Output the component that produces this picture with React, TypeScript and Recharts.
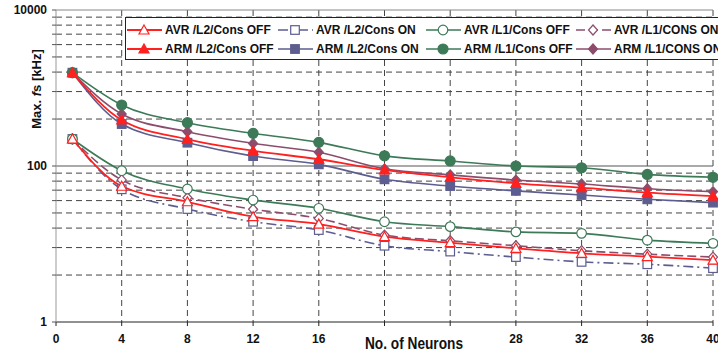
import React from 'react';
import { LineChart, Line, XAxis, YAxis, CartesianGrid, ReferenceLine } from 'recharts';

const neurons = [1, 4, 8, 12, 16, 20, 24, 28, 32, 36, 40];
const avrL2ConsOff = [222, 55, 34.8, 22.4, 18, 12.4, 10.4, 8.8, 7.6, 6.9, 6.2];
const avrL2ConsOn = [222, 50.3, 28.1, 19.3, 15.1, 9.5, 8.0, 6.8, 5.9, 5.5, 4.9];
const avrL1ConsOff = [222, 87, 50.7, 36.6, 28.7, 19.3, 16.7, 14.3, 13.7, 11.2, 10.2];
const avrL1ConsOn = [222, 66.2, 39.2, 27.9, 21.3, 13, 11.0, 9.5, 8.2, 7.4, 6.8];
const armL2ConsOff = [1570, 389, 220, 157, 122, 89, 71.6, 60, 52.7, 45.5, 41.2];
const armL2ConsOn = [1570, 345, 199, 134, 105, 67.5, 55.4, 48, 42.5, 37.4, 33.9];
const armL1ConsOff = [1570, 605, 359, 262, 201, 135, 116, 100, 95, 78, 71.6];
const armL1ConsOn = [1570, 464, 275, 195, 150, 92, 77, 66, 58.8, 51.2, 46.9];

const xTicks = [0, 4, 8, 12, 16, 20, 24, 28, 32, 36, 40];
const xHiddenLabels = [20, 24];
const yTicks = [1, 4, 9, 16, 25, 36, 49, 64, 81, 100, 400, 900, 1600, 2500, 3600, 4900, 6400, 8100, 10000];
const yLabelTicks = [1, 100, 10000];

const data = neurons.map((n, i) => ({
  n,
  avrL2Off: avrL2ConsOff[i],
  avrL2On: avrL2ConsOn[i],
  avrL1Off: avrL1ConsOff[i],
  avrL1On: avrL1ConsOn[i],
  armL2Off: armL2ConsOff[i],
  armL2On: armL2ConsOn[i],
  armL1Off: armL1ConsOff[i],
  armL1On: armL1ConsOn[i],
}));

const RED = '#ff2020';
const BLUE = '#5d5d90';
const GREEN = '#3d7a58';
const PURPLE = '#8c4d6c';
const FONT = '"Liberation Sans", Arial, sans-serif';

type Shape = 'triangle' | 'square' | 'circle' | 'diamond';

function markerEl(shape: Shape, cx: number, cy: number, color: string, filled: boolean, key?: string) {
  const fill = filled ? color : '#ffffff';
  const sw = 1.2;
  switch (shape) {
    case 'circle':
      return <circle key={key} cx={cx} cy={cy} r={filled ? 5 : 4.8} fill={fill} stroke={color} strokeWidth={sw} />;
    case 'square':
      return <rect key={key} x={cx - 4.3} y={cy - 4.3} width={8.6} height={8.6} fill={fill} stroke={color} strokeWidth={sw} />;
    case 'diamond':
      return (
        <polygon key={key} points={`${cx},${cy - 5} ${cx + 4.5},${cy} ${cx},${cy + 5} ${cx - 4.5},${cy}`} fill={fill} stroke={color} strokeWidth={sw} />
      );
    case 'triangle':
    default:
      return (
        <polygon key={key} points={`${cx},${cy - 5} ${cx + 5},${cy + 4} ${cx - 5},${cy + 4}`} fill={fill} stroke={color} strokeWidth={sw} />
      );
  }
}

function makeDot(shape: Shape, color: string, filled: boolean, id: string) {
  return (props: any) => {
    const { cx, cy, index } = props;
    const key = `${id}-${index}`;
    if (cx == null || cy == null || isNaN(cx) || isNaN(cy)) return <g key={key} />;
    return markerEl(shape, cx, cy, color, filled, key);
  };
}

type Series = { key: string; name: string; color: string; shape: Shape; filled: boolean; dash?: string; width: number };

const seriesList: Series[] = [
  { key: 'avrL2On', name: 'AVR /L2/Cons ON', color: BLUE, shape: 'square', filled: false, dash: '10 4 2 4', width: 1.6 },
  { key: 'avrL1On', name: 'AVR /L1/CONS ON', color: PURPLE, shape: 'diamond', filled: false, dash: '9 4', width: 1.6 },
  { key: 'avrL1Off', name: 'AVR /L1/Cons OFF', color: GREEN, shape: 'circle', filled: false, width: 1.6 },
  { key: 'avrL2Off', name: 'AVR /L2/Cons OFF', color: RED, shape: 'triangle', filled: false, width: 1.8 },
  { key: 'armL2On', name: 'ARM /L2/Cons ON', color: BLUE, shape: 'square', filled: true, width: 1.6 },
  { key: 'armL1On', name: 'ARM /L1/CONS ON', color: PURPLE, shape: 'diamond', filled: true, width: 1.6 },
  { key: 'armL1Off', name: 'ARM /L1/Cons OFF', color: GREEN, shape: 'circle', filled: true, width: 1.6 },
  { key: 'armL2Off', name: 'ARM /L2/Cons OFF', color: RED, shape: 'triangle', filled: true, width: 1.8 },
];

const legendOrder = [
  ['avrL2Off', 'avrL2On', 'avrL1Off', 'avrL1On'],
  ['armL2Off', 'armL2On', 'armL1Off', 'armL1On'],
];
const legendColX = [127, 278, 426, 576];
const legendRowY = [30, 49];

const XTick = (props: any) => {
  const { x, y, payload } = props;
  if (xHiddenLabels.includes(payload.value)) return <g />;
  return (
    <text x={x} y={y} dy="0.71em" textAnchor="middle" fontFamily={FONT} fontWeight="bold" fontSize={12} fill="#111">
      {payload.value}
    </text>
  );
};

const YTick = (props: any) => {
  const { x, y, payload } = props;
  if (!yLabelTicks.includes(payload.value)) return <g />;
  return (
    <text x={x} y={y} dy="0.35em" textAnchor="end" fontFamily={FONT} fontWeight="bold" fontSize={12} fill="#111">
      {payload.value}
    </text>
  );
};

export default function App() {
  return (
    <div style={{ position: 'absolute', left: 0, top: 0, width: 718, height: 352, overflow: 'hidden', background: '#fff' }}>
      <LineChart width={718} height={352} data={data} margin={{ top: 10, right: 5, bottom: 0, left: 0 }}>
        <CartesianGrid stroke="#444" strokeDasharray="6 4" horizontalValues={yTicks.filter((v) => v !== 1 && v !== 100 && v !== 10000)} verticalValues={[4, 8, 12, 16, 20, 24, 28, 32, 36, 40]} />
        <XAxis
          dataKey="n"
          type="number"
          domain={[0, 40]}
          ticks={xTicks}
          height={30}
          tickSize={4}
          tickMargin={8}
          tick={<XTick />}
          stroke="#222"
          tickLine={{ stroke: '#222' }}
          axisLine={{ stroke: '#222' }}
          interval={0}
        />
        <YAxis
          type="number"
          scale="log"
          domain={[1, 10000]}
          ticks={yTicks}
          width={56}
          tickSize={4}
          tickMargin={5}
          tick={<YTick />}
          axisLine={{ stroke: '#999' }}
          tickLine={{ stroke: '#555' }}
          interval={0}
          allowDataOverflow
        />
        <ReferenceLine y={100} stroke="#555" strokeWidth={1} />
        <ReferenceLine y={10000} stroke="#888" strokeWidth={1} />
        {seriesList.map((s) => (
          <Line
            key={s.key}
            dataKey={s.key}
            type="monotone"
            stroke={s.color}
            strokeWidth={s.width}
            strokeDasharray={s.dash}
            dot={makeDot(s.shape, s.color, s.filled, s.key)}
            activeDot={false}
            isAnimationActive={false}
          />
        ))}
      </LineChart>
      <svg width={718} height={352} style={{ position: 'absolute', left: 0, top: 0, pointerEvents: 'none' }}>
        <rect x={125.5} y={17.5} width={620} height={42} fill="#fff" stroke="#222" strokeWidth={1} />
        {legendOrder.map((row, ri) =>
          row.map((k, ci) => {
            const s = seriesList.find((q) => q.key === k)!;
            const lx = legendColX[ci];
            const ly = legendRowY[ri];
            return (
              <g key={k}>
                <line x1={lx} y1={ly} x2={lx + 35} y2={ly} stroke={s.color} strokeWidth={s.width} strokeDasharray={s.dash} />
                {markerEl(s.shape, lx + 17, ly, s.color, s.filled)}
                <text x={lx + 38} y={ly} dy="0.35em" fontFamily={FONT} fontWeight="bold" fontSize={12} fill="#111">
                  {s.name}
                </text>
              </g>
            );
          })
        )}
        <text transform="translate(36,89) rotate(-90)" textAnchor="middle" dy="0.35em" fontFamily={FONT} fontWeight="bold" fontSize={13} fill="#111">
          Max. <tspan fontStyle="italic">f</tspan>s [kHz]
        </text>
        <text x={365} y={349} textLength={98} lengthAdjust="spacingAndGlyphs" fontFamily={FONT} fontWeight="bold" fontSize={17} fill="#111">
          No. of Neurons
        </text>
      </svg>
    </div>
  );
}
